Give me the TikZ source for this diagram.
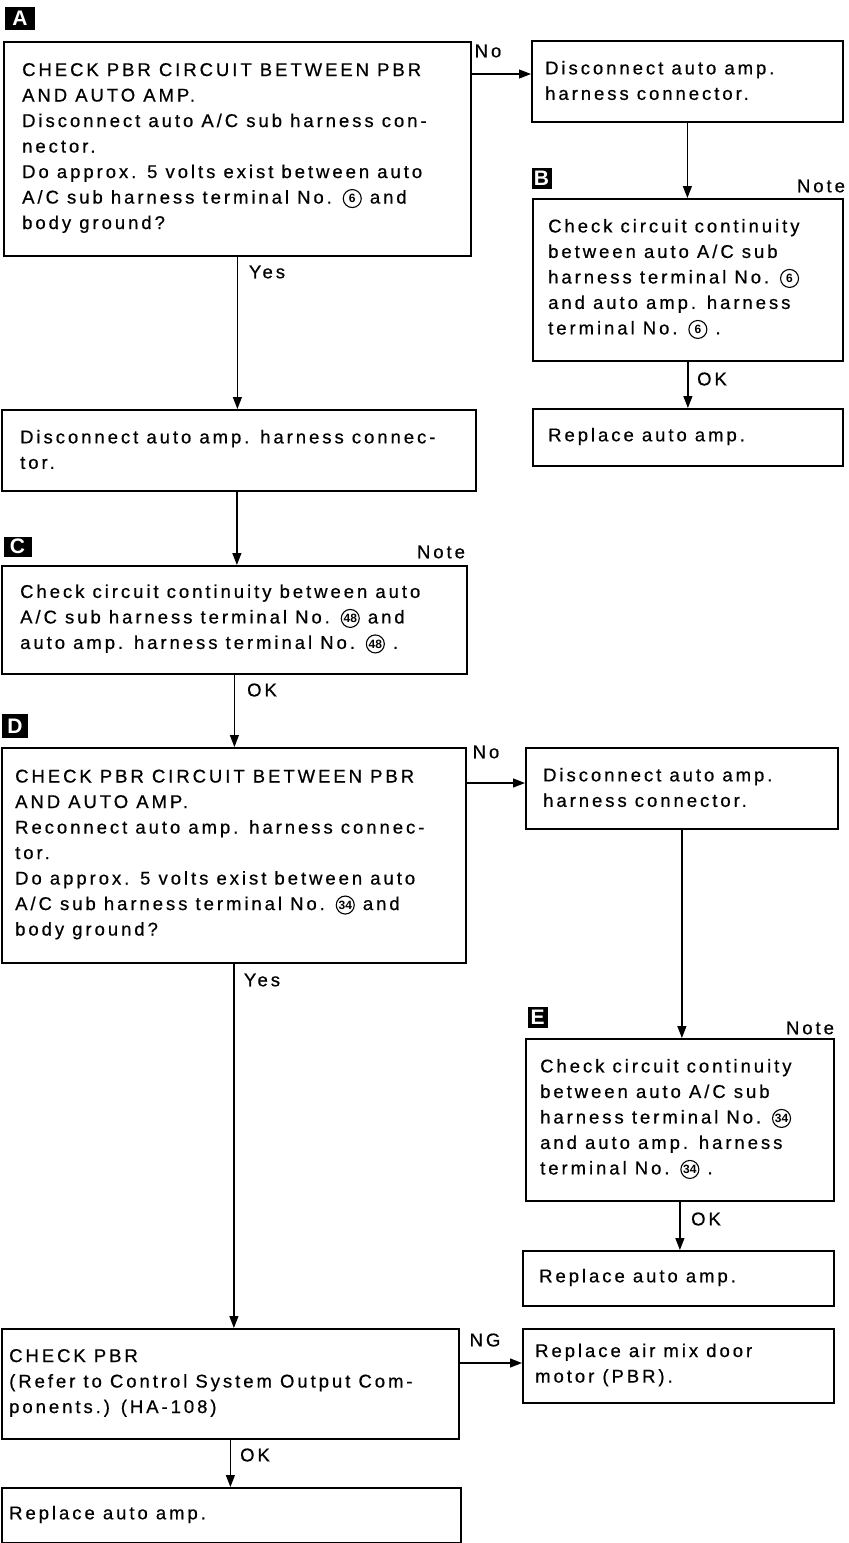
\documentclass[tikz,border=0pt]{standalone}
\usepackage{fontspec}
\setmainfont{Liberation Sans}[LetterSpace=16,FakeBold=0.6]
\newfontfamily\plainsans{Liberation Sans}
\usetikzlibrary{arrows.meta}
\newcommand\cnum[1]{\tikz[baseline=-5pt]\node[circle,draw,line width=1.1pt,inner sep=0pt,minimum size=18pt,font=\plainsans\bfseries\fontsize{12}{12}\selectfont] (cn) {#1};}
\begin{document}
\begin{tikzpicture}[x=1pt,y=-1pt,
  box/.style={draw, line width=1.8pt, anchor=north west, inner sep=0pt},
  txt/.style={anchor=west, align=left, inner sep=0pt, font=\fontsize{18.5}{25.5}\selectfont},
  lbl/.style={inner sep=0pt, font=\fontsize{18.5}{20}\selectfont},
  tag/.style={fill=black, text=white, inner sep=0pt, font=\plainsans\bfseries\fontsize{21}{21}\selectfont},
  arr/.style={line width=1.2pt, -{Triangle[length=12pt,width=9pt]}}]
\useasboundingbox (0,0) rectangle (849,1543);

% tags
\node[tag, minimum width=30pt, minimum height=23pt] (tA) at (20,18.5) {A};
\node[tag, minimum width=20pt, minimum height=21pt] (tB) at (541.5,178) {B};
\node[tag, minimum width=28pt, minimum height=20pt] (tC) at (17.5,546.5) {C};
\node[tag, minimum width=26pt, minimum height=24pt] (tD) at (15,726) {D};
\node[tag, minimum width=20pt, minimum height=21pt] (tE) at (537.5,1017.5) {E};

% boxes
\node[box, minimum width=467pt, minimum height=214pt] (A) at (3,41) {};
\node[box, minimum width=311pt, minimum height=81pt] (R1) at (531,40) {};
\node[box, minimum width=310pt, minimum height=162pt] (B) at (532,198) {};
\node[box, minimum width=310pt, minimum height=57pt] (RB) at (532,408) {};
\node[box, minimum width=474pt, minimum height=81pt] (Dis) at (1,409) {};
\node[box, minimum width=465pt, minimum height=108pt] (C) at (1,565) {};
\node[box, minimum width=464pt, minimum height=215pt] (D) at (1,747) {};
\node[box, minimum width=312pt, minimum height=81pt] (R2) at (525,747) {};
\node[box, minimum width=308pt, minimum height=162pt] (E) at (525,1038) {};
\node[box, minimum width=311pt, minimum height=55pt] (RE) at (522,1250) {};
\node[box, minimum width=457pt, minimum height=110pt] (P) at (1,1328) {};
\node[box, minimum width=311pt, minimum height=74pt] (AM) at (522,1328) {};
\node[box, minimum width=459pt, minimum height=55pt] (RP) at (1,1487) {};

% texts
\node[txt] (At) at (22,148) {CHECK PBR CIRCUIT BETWEEN PBR\\AND AUTO AMP.\\Disconnect auto A/C sub harness con-\\nector.\\Do approx. 5 volts exist between auto\\A/C sub harness terminal No. \cnum{6} and\\body ground?};
\node[txt] (R1t) at (545,80.5) {Disconnect auto amp.\\harness connector.};
\node[txt] (Bt) at (548,279) {Check circuit continuity\\between auto A/C sub\\harness terminal No. \cnum{6}\\and auto amp. harness\\terminal No. \cnum{6} .};
\node[txt] (RBt) at (548,436.5) {Replace auto amp.};
\node[txt] (Dist) at (20,449.5) {Disconnect auto amp. harness connec-\\tor.};
\node[txt] (Ct) at (20,619) {Check circuit continuity between auto\\A/C sub harness terminal No. \cnum{48} and\\auto amp. harness terminal No. \cnum{48} .};
\node[txt] (Dt) at (15,854.5) {CHECK PBR CIRCUIT BETWEEN PBR\\AND AUTO AMP.\\Reconnect auto amp. harness connec-\\tor.\\Do approx. 5 volts exist between auto\\A/C sub harness terminal No. \cnum{34} and\\body ground?};
\node[txt] (R2t) at (543,787.5) {Disconnect auto amp.\\harness connector.};
\node[txt] (Et) at (540,1119) {Check circuit continuity\\between auto A/C sub\\harness terminal No. \cnum{34}\\and auto amp. harness\\terminal No. \cnum{34} .};
\node[txt] (REt) at (539,1277.5) {Replace auto amp.};
\node[txt] (Pt) at (9,1383) {CHECK PBR\\(Refer to Control System Output Com-\\ponents.) (HA-108)};
\node[txt] (AMt) at (535,1365) {Replace air mix door\\motor (PBR).};
\node[txt] (RPt) at (9,1514.5) {Replace auto amp.};

% labels
\node[lbl] (no1) at (488,51) {No};
\node[lbl] (noteB) at (821,186) {Note};
\node[lbl] (okB) at (712,379) {OK};
\node[lbl] (yes1) at (267,272) {Yes};
\node[lbl] (noteC) at (441,552) {Note};
\node[lbl] (okC) at (262,690) {OK};
\node[lbl] (no2) at (486,752) {No};
\node[lbl] (noteE) at (810,1028) {Note};
\node[lbl] (okE) at (706,1219) {OK};
\node[lbl] (yes2) at (262,980) {Yes};
\node[lbl] (ng) at (485,1340) {NG};
\node[lbl] (okP) at (255,1455) {OK};

% connectors
\draw[arr] ([yshift=-33pt]A.north east) -- ([yshift=-33pt]A.north east -| R1.west);
\draw[arr] (R1.south) -- (R1.south |- B.north);
\draw[arr] (B.south) -- (B.south |- RB.north);
\draw[arr] (A.south) -- (A.south |- Dis.north);
\draw[arr] ([xshift=-2pt]Dis.south) -- ([xshift=-2pt]Dis.south |- C.north);
\draw[arr] (C.south) -- (C.south |- D.north);
\draw[arr] ([yshift=-36pt]D.north east) -- ([yshift=-36pt]D.north east -| R2.west);
\draw[arr] (R2.south) -- (R2.south |- E.north);
\draw[arr] (E.south) -- (E.south |- RE.north);
\draw[arr] (D.south) -- (D.south |- P.north);
\draw[arr] ([yshift=-35pt]P.north east) -- ([yshift=-35pt]P.north east -| AM.west);
\draw[arr] (P.south) -- (P.south |- RP.north);
\end{tikzpicture}
\end{document}
